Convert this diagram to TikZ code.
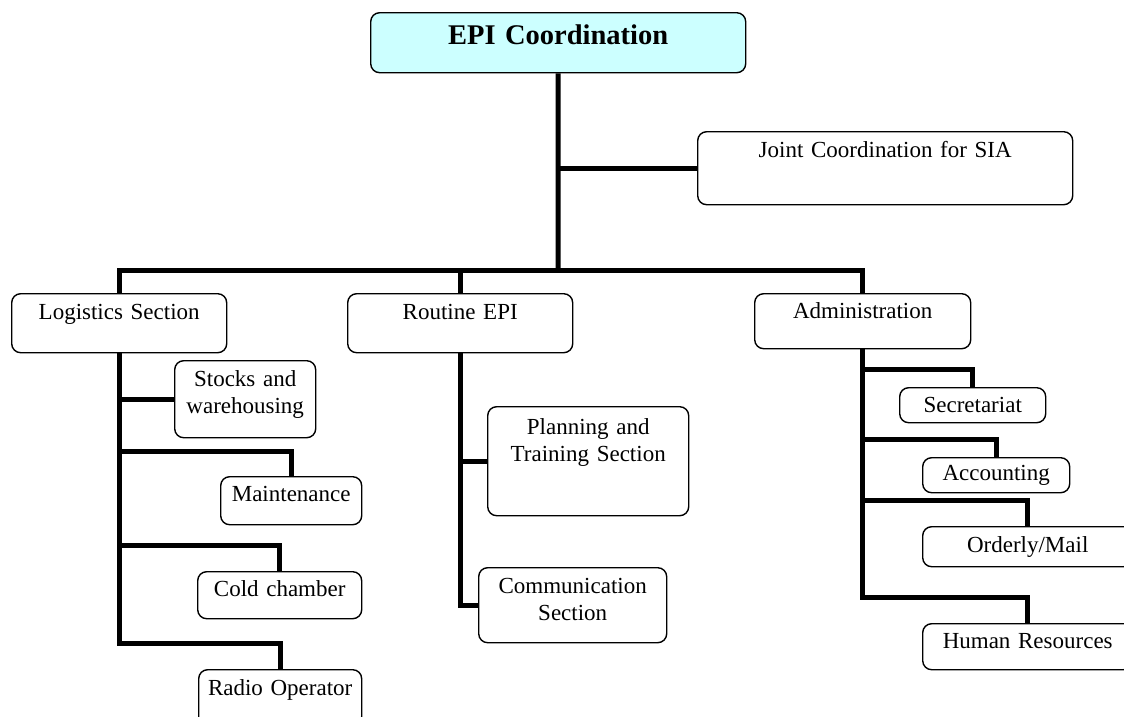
\documentclass[tikz,border=0pt]{standalone}
\usepackage{fontspec}
\setmainfont{Liberation Serif}
\usepackage{tikz}
\definecolor{epicyan}{HTML}{CCFFFF}
\tikzset{
  unit/.style={draw, line width=1.4pt, rounded corners=9pt, inner sep=0pt,
    align=center, anchor=north west, font=\fontsize{23}{27}\selectfont},
  link/.style={line width=5pt}
}

\begin{document}
\begin{tikzpicture}[x=1pt,y=-1pt]
\useasboundingbox (0,0) rectangle (1124,716);
\clip (0,0) rectangle (1124,716);

% top
\node[unit, fill=epicyan, text width=375pt, text height=32pt, text depth=28pt,
  font=\fontsize{28.5}{34}\selectfont\bfseries] (epi) at (370,12) {EPI Coordination};
\node[unit, text width=375pt, text height=26pt, text depth=47pt] (joint) at (697,131) {Joint Coordination for SIA};

% sections
\node[unit, text width=215pt, text height=26pt, text depth=33pt] (logistics) at (11,293) {Logistics Section};
\node[unit, text width=225pt, text height=26pt, text depth=33pt] (routine) at (347,293) {Routine EPI};
\node[unit, text width=216pt, text height=25pt, text depth=30pt] (admin) at (754,293) {Administration};

% logistics units
\node[unit, text width=141pt, text height=26pt, text depth=51pt] (stocks) at (174,360) {Stocks and\\warehousing};
\node[unit, text width=141pt, text height=25pt, text depth=23pt] (maint) at (220,476) {Maintenance};
\node[unit, text width=164pt, text height=25pt, text depth=22pt] (cold) at (197,571) {Cold chamber};
\node[unit, text width=163pt, text height=26pt, text depth=30pt] (radio) at (198,669) {Radio Operator};

% routine units
\node[unit, text width=201pt, text height=28pt, text depth=81pt] (plan) at (487,406) {Planning and\\Training Section};
\node[unit, text width=188pt, text height=26pt, text depth=49pt] (comm) at (478,567) {Communication\\Section};

% administration units
\node[unit, text width=146pt, text height=25pt, text depth=10pt] (secr) at (899,387) {Secretariat};
\node[unit, text width=147pt, text height=23pt, text depth=12pt] (acct) at (922,457) {Accounting};
\node[unit, text width=210pt, text height=26pt, text depth=14pt] (mail) at (922,526) {Orderly/Mail};
\node[unit, text width=210pt, text height=25pt, text depth=21pt] (hr) at (922,623) {Human Resources};

\coordinate (bar) at (558,270);

\draw[link] (epi.south) -- (bar);
\draw[link] (epi.south |- joint.west) -- (joint.west);
\draw[link] (logistics.north) |- (bar) -| (admin.north);
\draw[link] (routine.north) -- (routine.north |- bar);

\draw[link] (logistics.south) |- ([yshift=26pt]radio.north) -- (radio.north);
\draw[link] (logistics.south |- stocks.west) -- (stocks.west);
\draw[link] (maint.north) -- ++(0,25pt) -| (logistics.south);
\draw[link] (cold.north) -- ++(0,26pt) -| (logistics.south);

\draw[link] (routine.south) |- (comm.west);
\draw[link] (routine.south |- plan.west) -- (plan.west);

\draw[link] (admin.south) |- ([yshift=26pt]hr.north) -- (hr.north);
\draw[link] (secr.north) -- ++(0,18pt) -| (admin.south);
\draw[link] (acct.north) -- ++(0,18pt) -| (admin.south);
\draw[link] (mail.north) -- ++(0,26pt) -| (admin.south);

\end{tikzpicture}
\end{document}
